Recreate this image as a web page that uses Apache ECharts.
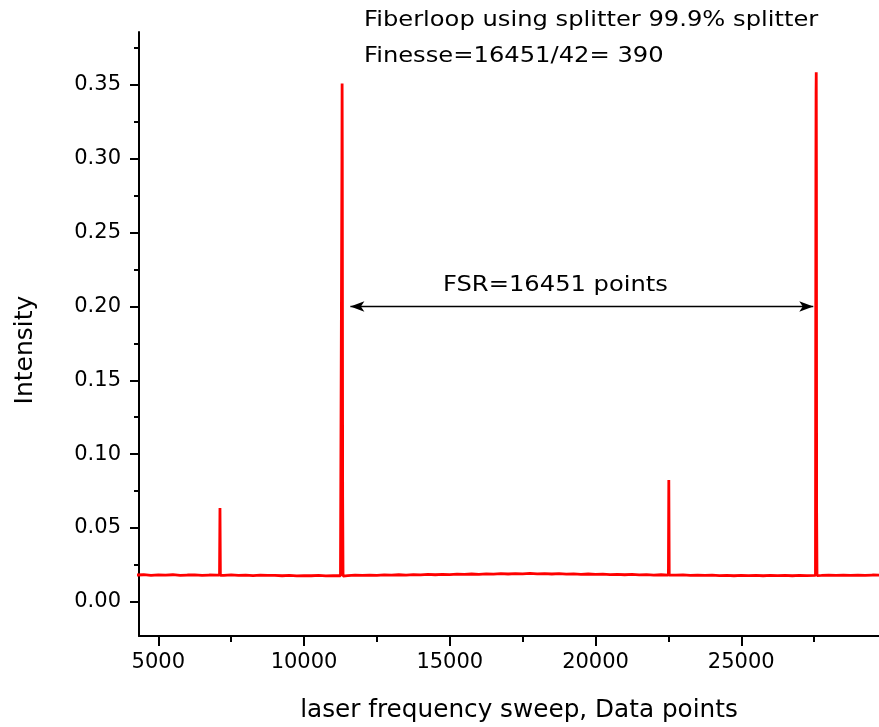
<!DOCTYPE html>
<html><head><meta charset="utf-8">
<script src="https://cdn.jsdelivr.net/npm/echarts@6/dist/echarts.min.js"></script>
<style>html,body{margin:0;padding:0;background:#fff}#c{width:879px;height:727px}</style>
</head><body><div id="c"></div>
<script>
// Baseline trace (data points, intensity)
var baseX = [4250,4500,4750,5000,5250,5500,5750,6000,6250,6500,6750,7000,7250,7500,7750,8000,8250,8500,8750,9000,9250,9500,9750,10000,10250,10500,10750,11000,11250,11500,11750,12000,12250,12500,12750,13000,13250,13500,13750,14000,14250,14500,14750,15000,15250,15500,15750,16000,16250,16500,16750,17000,17250,17500,17750,18000,18250,18500,18750,19000,19250,19500,19750,20000,20250,20500,20750,21000,21250,21500,21750,22000,22250,22750,23000,23250,23500,23750,24000,24250,24500,24750,25000,25250,25500,25750,26000,26250,26500,26750,27000,27250,27750,28000,28250,28500,28750,29000,29250,29500,29750];
var baseY = [0.0181,0.0183,0.0179,0.0182,0.0180,0.0183,0.0178,0.0181,0.0182,0.0179,0.0181,0.0180,0.0178,0.0182,0.0179,0.0181,0.0177,0.0180,0.0178,0.0179,0.0176,0.0178,0.0175,0.0177,0.0176,0.0178,0.0175,0.0177,0.0176,0.0177,0.0180,0.0178,0.0181,0.0179,0.0182,0.0180,0.0183,0.0181,0.0184,0.0182,0.0185,0.0183,0.0186,0.0184,0.0187,0.0186,0.0188,0.0186,0.0189,0.0187,0.0190,0.0188,0.0191,0.0189,0.0192,0.0189,0.0191,0.0188,0.0190,0.0187,0.0189,0.0186,0.0188,0.0185,0.0187,0.0184,0.0186,0.0183,0.0185,0.0182,0.0184,0.0181,0.0183,0.0180,0.0182,0.0179,0.0181,0.0178,0.0180,0.0177,0.0179,0.0176,0.0178,0.0177,0.0179,0.0176,0.0178,0.0177,0.0179,0.0176,0.0178,0.0177,0.0178,0.0180,0.0179,0.0181,0.0178,0.0180,0.0179,0.0181,0.0180];
// Resonance peaks
var peakX = [7100,7116,7130, 11285,11300,11306,11312,11325,11338, 22500,22514,22528, 27545,27560,27566,27572,27578,27585,27598];
var peakY = [0.0180,0.0635,0.0179, 0.0176,0.300,0.351,0.300,0.071,0.0174, 0.0181,0.0824,0.0180, 0.0178,0.292,0.344,0.3587,0.292,0.062,0.0177];
// Axis ticks
var xTicks = [5000,10000,15000,20000,25000];
var xMinor = [7500,12500,17500,22500,27500];
var yTicks = [0,0.05,0.10,0.15,0.20,0.25,0.30,0.35];
var yMinor = [0.025,0.075,0.125,0.175,0.225,0.275,0.325,0.375];
// FSR arrow ends
var fsrStart = [11590,0.2], fsrEnd = [27470,0.2];

var pts = [];
for (var i=0;i<baseX.length;i++) pts.push([baseX[i],baseY[i]]);
for (var j=0;j<peakX.length;j++) pts.push([peakX[j],peakY[j]]);
pts.sort(function(a,b){return a[0]-b[0];});

var XMIN=4338, XMAX=29725, YMIN=-0.0232, YMAX=0.3859;
var F='DejaVu Sans';
var chart = echarts.init(document.getElementById('c'), null, {renderer:'canvas'});
function xa(show, ticks, len, labels){
  return {type:'value',min:XMIN,max:XMAX,position:'bottom',
    axisLine:{show:show,onZero:false,lineStyle:{color:'#000',width:2}},
    axisTick:{show:true,inside:false,length:len,customValues:ticks,lineStyle:{color:'#000',width:2}},
    axisLabel:{show:labels,customValues:ticks,margin:16,color:'#000',fontFamily:F,fontSize:21,
      formatter:function(v){return String(v);}},
    splitLine:{show:false}};
}
function ya(show, ticks, len, labels){
  return {type:'value',min:YMIN,max:YMAX,position:'left',
    axisLine:{show:show,onZero:false,lineStyle:{color:'#000',width:2}},
    axisTick:{show:true,inside:false,length:len,customValues:ticks,lineStyle:{color:'#000',width:2}},
    axisLabel:{show:labels,customValues:ticks,margin:18,color:'#000',fontFamily:F,fontSize:21,
      formatter:function(v){return v.toFixed(2);}},
    splitLine:{show:false}};
}
chart.setOption({
  animation:false,
  backgroundColor:'#fff',
  grid:{left:139,right:0,top:32,bottom:91,containLabel:false},
  xAxis:[xa(true,xTicks,10,true), xa(false,xMinor,6,false)],
  yAxis:[ya(true,yTicks,9,true), ya(false,yMinor,5,false)],
  series:[{
    type:'line',data:pts,xAxisIndex:0,yAxisIndex:0,showSymbol:false,
    lineStyle:{color:'#ff0000',width:2.8},itemStyle:{color:'#ff0000'},
    markLine:{silent:true,symbol:['arrow','arrow'],symbolSize:[8,14],
      lineStyle:{color:'#000',width:1.3,type:'solid'},label:{show:false},
      data:[[{coord:fsrStart},{coord:fsrEnd}]]}
  }],
  graphic:[
    {type:'text',x:364,y:20,style:{text:'Fiberloop using splitter 99.9% splitter',font:'22px "DejaVu Sans"',fill:'#000',verticalAlign:'middle'},scaleX:1.1},
    {type:'text',x:364,y:56,style:{text:'Finesse=16451/42= 390',font:'22px "DejaVu Sans"',fill:'#000',verticalAlign:'middle'},scaleX:1.1},
    {type:'text',x:443,y:285,style:{text:'FSR=16451 points',font:'22px "DejaVu Sans"',fill:'#000',verticalAlign:'middle'},scaleX:1.1},
    {type:'text',x:519,y:711,style:{text:'laser frequency sweep, Data points',font:'24px "DejaVu Sans"',fill:'#000',align:'center',verticalAlign:'middle'},scaleX:1.03},
    {type:'text',x:25,y:350,rotation:Math.PI/2,style:{text:'Intensity',font:'25px "DejaVu Sans"',fill:'#000',align:'center',verticalAlign:'middle'}}
  ]
});
</script></body></html>
